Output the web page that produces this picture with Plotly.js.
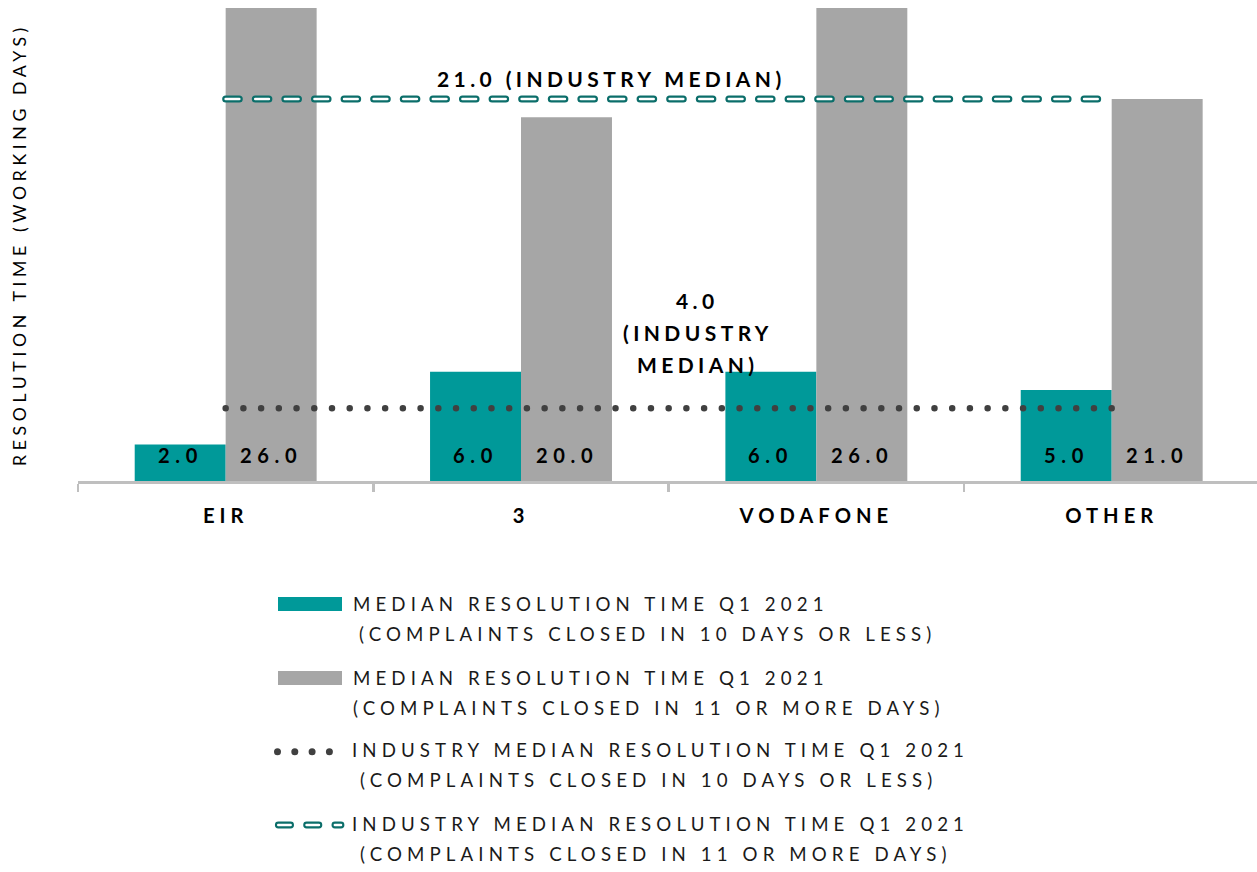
<!DOCTYPE html>
<html>
<head>
<meta charset="utf-8">
<script src="https://cdn.plot.ly/plotly-3.0.1.min.js"></script>
<style>
  html, body { margin: 0; padding: 0; background: #fff; overflow: hidden; }
  #chart { width: 1257px; height: 872px; }
  .scatterlayer path.js-line, .shapelayer path { stroke-linecap: round; }
  text[style*="font-size: 17.7px"] { letter-spacing: 4.6px; }
  text[style*="font-size: 18.7px"] { letter-spacing: 5.1px; }
  text[style*="font-size: 20.2px"] { letter-spacing: 5px; }
  text[style*="font-size: 20.1px"] { letter-spacing: 5.6px; }
  text[style*="font-size: 21px"] { letter-spacing: 4.4px; }
</style>
</head>
<body>
<div id="chart"></div>
<script>
// ---- data ----
const categories = ['EIR', '3', 'VODAFONE', 'OTHER'];
const medianUnder10 = [2.0, 6.0, 6.0, 5.0];
const medianOver11 = [26.0, 20.0, 26.0, 21.0];
const industryUnder10 = [4.0, 4.0, 4.0, 4.0];
const industryOver11 = [21.0, 21.0, 21.0, 21.0];
const seriesNames = [
  ['MEDIAN RESOLUTION TIME Q1 2021', '(COMPLAINTS CLOSED IN 10 DAYS OR LESS)'],
  ['MEDIAN RESOLUTION TIME Q1 2021', '(COMPLAINTS CLOSED IN 11 OR MORE DAYS)'],
  ['INDUSTRY MEDIAN RESOLUTION TIME Q1 2021', '(COMPLAINTS CLOSED IN 10 DAYS OR LESS)'],
  ['INDUSTRY MEDIAN RESOLUTION TIME Q1 2021', '(COMPLAINTS CLOSED IN 11 OR MORE DAYS)']
];
const yTitle = 'RESOLUTION TIME (WORKING DAYS)';
const over11LabelLines = [industryOver11[0].toFixed(1) + ' (INDUSTRY MEDIAN)'];
const under10LabelLines = [industryUnder10[0].toFixed(1), '(INDUSTRY', 'MEDIAN)'];

// ---- styles ----
const TEAL = '#009999', GRAY = '#a6a6a6', DOT = '#404040', DASH = '#0b6e6a';
const FONT = 'Lato, "Open Sans", sans-serif';
const W = 1257, H = 872, ML = 78, MR = 0, MT = 8, MB = 391;
const PW = W - ML - MR, PH = H - MT - MB;
const px = x => (x - ML) / PW;
const py = y => (H - MB - y) / PH;
const DASHPAT = '13.6px,16px';

const traces = [
  { type: 'bar', x: categories, y: medianUnder10, marker: { color: TEAL }, showlegend: false, hoverinfo: 'skip' },
  { type: 'bar', x: categories, y: medianOver11, marker: { color: GRAY }, showlegend: false, hoverinfo: 'skip' },
  { type: 'scatter', mode: 'lines', x: categories, y: industryUnder10,
    line: { color: DOT, width: 6.5, dash: '0px,17.72px' }, showlegend: false, hoverinfo: 'skip' },
  { type: 'scatter', mode: 'lines', x: categories, y: industryOver11,
    line: { color: DASH, width: 7, dash: DASHPAT }, showlegend: false, hoverinfo: 'skip' },
  { type: 'scatter', mode: 'lines', x: categories, y: industryOver11,
    line: { color: '#ffffff', width: 2.6, dash: DASHPAT }, showlegend: false, hoverinfo: 'skip' }
];

const annotations = [];
const HALF = 45.6;
// bar value labels (x given as category index)
medianUnder10.forEach((v, i) => annotations.push({
  x: i, y: 0, xref: 'x', yref: 'y', xshift: -HALF, yshift: 12,
  text: v.toFixed(1), showarrow: false, xanchor: 'center', yanchor: 'bottom',
  font: { family: FONT, size: 20.1, color: '#000', weight: 'bold' }
}));
medianOver11.forEach((v, i) => annotations.push({
  x: i, y: 0, xref: 'x', yref: 'y', xshift: HALF, yshift: 12,
  text: v.toFixed(1), showarrow: false, xanchor: 'center', yanchor: 'bottom',
  font: { family: FONT, size: 20.1, color: '#000', weight: 'bold' }
}));
// industry median labels
over11LabelLines.forEach((t, k) => annotations.push({
  x: 1.306, y: industryOver11[0], xref: 'x', yref: 'y', yshift: 6,
  text: t, showarrow: false, xanchor: 'center', yanchor: 'bottom',
  font: { family: FONT, size: 21, color: '#000', weight: 'bold' }
}));
const under10Base = [309.3, 341.7, 373.3];
under10LabelLines.forEach((t, k) => annotations.push({
  x: 1.598, y: py(under10Base[k] + 0.213 * 21 + 1), xref: 'x', yref: 'paper',
  text: t, showarrow: false, xanchor: 'center', yanchor: 'bottom',
  font: { family: FONT, size: 21, color: '#000', weight: 'bold' }
}));
// legend text
const legBase = [611.7, 685.7, 758.3, 831.7];
const legX1 = [350.5, 350.5, 349.5, 349.5];
const legX2 = [357, 350.5, 358, 358];
seriesNames.forEach((lines, i) => {
  lines.forEach((t, k) => annotations.push({
    x: px(k === 0 ? legX1[i] : legX2[i]), y: py(legBase[i] + 30 * k + 0.213 * 18.7 + 1),
    xref: 'paper', yref: 'paper', text: t, showarrow: false, xanchor: 'left', yanchor: 'bottom',
    font: { family: FONT, size: 18.7, color: '#1a1a1a' }
  }));
});

// legend symbols
const shapes = [
  { type: 'rect', xref: 'paper', yref: 'paper', x0: px(278), x1: px(342), y0: py(611), y1: py(597),
    fillcolor: TEAL, line: { width: 0 } },
  { type: 'rect', xref: 'paper', yref: 'paper', x0: px(278), x1: px(342), y0: py(685), y1: py(671),
    fillcolor: GRAY, line: { width: 0 } },
  { type: 'line', xref: 'paper', yref: 'paper', x0: px(277.5), x1: px(330), y0: py(751.7), y1: py(751.7),
    line: { color: DOT, width: 7, dash: '0px,17.3px' } },
  { type: 'line', xref: 'paper', yref: 'paper', x0: px(278.3), x1: px(341), y0: py(825), y1: py(825),
    line: { color: DASH, width: 6.8, dash: '12.3px,16px' } },
  { type: 'line', xref: 'paper', yref: 'paper', x0: px(278.3), x1: px(341), y0: py(825), y1: py(825),
    line: { color: '#ffffff', width: 2.6, dash: '12.3px,16px' } }
];

const layout = {
  width: W, height: H, autosize: false,
  margin: { l: ML, r: MR, t: MT, b: MB, pad: 0 },
  paper_bgcolor: '#ffffff', plot_bgcolor: '#ffffff',
  barmode: 'group', bargap: 0.384, bargroupgap: 0,
  showlegend: false,
  xaxis: {
    type: 'category', range: [-0.5, 3.492], fixedrange: true,
    showline: true, linecolor: '#bfbfbf', linewidth: 2.5,
    ticks: 'outside', tickson: 'boundaries', ticklen: 8, tickwidth: 2.5, tickcolor: '#bfbfbf',
    showgrid: false, zeroline: false,
    tickfont: { family: FONT, size: 20.2, color: '#000', weight: 'bold' },
    ticklabelstandoff: 15
  },
  yaxis: {
    range: [0, 26], fixedrange: true, showgrid: false, zeroline: false, showline: false,
    showticklabels: false, ticks: '',
    title: { text: yTitle, standoff: 45, font: { family: FONT, size: 17.7, color: '#000' } }
  },
  annotations: annotations,
  shapes: shapes
};

Plotly.newPlot('chart', traces, layout, { displayModeBar: false, staticPlot: true });
</script>
</body>
</html>
